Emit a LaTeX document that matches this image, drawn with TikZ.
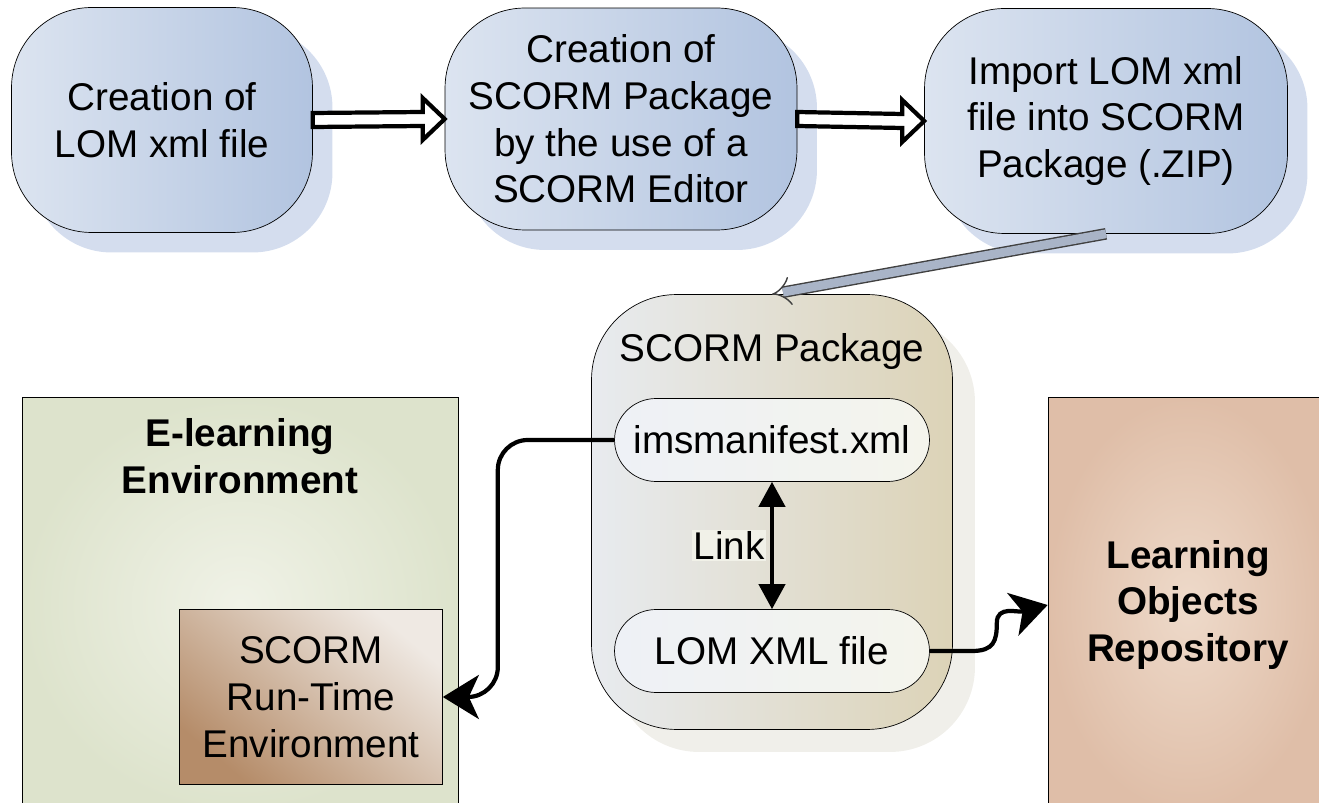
\documentclass[tikz,border=0pt]{standalone}
\usepackage{fontspec}
\setmainfont{Liberation Sans}
\usetikzlibrary{arrows.meta,shadows,positioning,calc}

\definecolor{stepleft}{HTML}{DCE4F0}
\definecolor{stepright}{HTML}{B2C4E0}
\definecolor{stepshadow}{HTML}{D4DDEE}
\definecolor{pkgleft}{HTML}{E8EBEF}
\definecolor{pkgright}{HTML}{DCD3B7}
\definecolor{pkgshadow}{HTML}{F0EFEA}
\definecolor{fileleft}{HTML}{EEF1F6}
\definecolor{fileright}{HTML}{F4F4EC}
\definecolor{envouter}{HTML}{DDE3CC}
\definecolor{envinner}{HTML}{F0F2E7}
\definecolor{rtdark}{HTML}{B58C69}
\definecolor{rtlight}{HTML}{EFE9E3}
\definecolor{repoouter}{HTML}{DFBEA8}
\definecolor{repoinner}{HTML}{EEDACA}
\definecolor{feedgray}{HTML}{A9B4C7}
\definecolor{linkbg}{HTML}{F1F1E8}

\newcommand\boxfont{\fontsize{22}{26.6}\selectfont}

\begin{document}
\begin{tikzpicture}[x=0.02cm,y=-0.02cm,
  stepbox/.style={draw=black,rounded corners=1.6cm,left color=stepleft,right color=stepright,
    align=center,font=\boxfont,inner sep=0pt,
    drop shadow={shadow xshift=0.4cm,shadow yshift=-0.4cm,fill=stepshadow,opacity=1}},
  pkgbox/.style={draw=black,rounded corners=1.7cm,left color=pkgleft,right color=pkgright,
    minimum width=7.22cm,minimum height=8.7cm,
    drop shadow={shadow xshift=0.45cm,shadow yshift=-0.45cm,fill=pkgshadow,opacity=1}},
  filebox/.style={draw=black,rounded corners=0.83cm,left color=fileleft,right color=fileright,
    minimum width=6.3cm,minimum height=1.66cm,font=\boxfont},
  flow/.style={draw=black,line width=2.4pt,fill=white,line join=miter,to path={
    ($(\tikztostart)+(0,-7)$) -- ($(\tikztotarget)+(-22,-7)$) -- ($(\tikztotarget)+(-22,-21)$)
    -- (\tikztotarget) -- ($(\tikztotarget)+(-22,21)$) -- ($(\tikztotarget)+(-22,7)$)
    -- ($(\tikztostart)+(0,7)$) -- cycle}},
  feed/.style={line width=0.8pt,draw=black!75,double=feedgray,double distance=5pt,-{Implies}},
  conn/.style={line width=2.4pt,rounded corners=0.6cm,-{Stealth[length=0.72cm,width=0.88cm,inset=0.2cm]}},
  link/.style={line width=2.4pt,{Triangle[length=0.5cm,width=0.52cm]}-{Triangle[length=0.5cm,width=0.52cm]}}]

\useasboundingbox (0,0) rectangle (1319,803);

% top row
\node[stepbox,minimum width=6.02cm,minimum height=4.5cm] (lom) at (162,120) {Creation of\\LOM xml file};
\node[stepbox,minimum width=7.04cm,minimum height=4.44cm] (editor) at (621,119) {Creation of\\SCORM Package\\by the use of a\\SCORM Editor};
\node[stepbox,minimum width=7.26cm,minimum height=4.5cm] (import) at (1106,121) {Import LOM xml\\file into SCORM\\Package (.ZIP)};

\draw[flow] (lom.east) to (editor.west);
\draw[flow] (editor.east) to (import.west);

% package
\node[pkgbox] (pkg) at (772,512) {};
\node[font=\boxfont] (pkgtitle) at ([yshift=-1.14cm]pkg.north) {SCORM Package};
\node[filebox] (manifest) at (772,440) {imsmanifest.xml};
\node[filebox] (lomfile) at (772,651) {LOM XML file};

\draw[feed] (import.south) -- (pkg.north);
\draw[link] (manifest.south) -- (lomfile.north)
  node[midway,left,fill=linkbg,inner sep=1pt,xshift=-2pt,font=\boxfont] (linklabel) {Link};

% environment
\node[draw=black,inner color=envinner,outer color=envouter,minimum width=8.72cm,minimum height=8.3cm] (env) at (240,605) {};
\node[font=\boxfont\bfseries,align=center,anchor=north,inner sep=0pt] (envtitle) at ([yshift=-0.42cm]env.north) {E-learning\\Environment};
\node[draw=black,left color=rtlight,right color=rtdark,shading angle=-40,minimum width=5.26cm,minimum height=3.5cm,
  align=center,font=\boxfont] (runtime) at (311,697) {SCORM\\Run-Time\\Environment};

% repository
\node[draw=black,inner color=repoinner,outer color=repoouter,minimum width=5.6cm,minimum height=8.3cm,
  align=center,font=\boxfont\bfseries] (repo) at (1188,605) {Learning\\Objects\\Repository};

\draw[conn] (manifest.west) -| ([xshift=1.1cm]runtime.east) -- (runtime.east);
\draw[conn,rounded corners=0pt] (lomfile.east) -- ++(42,0) .. controls +(22,0) and +(0,18) .. ++(25,-28)
  .. controls +(0,-18) and +(-30,8) .. (repo.west);

\end{tikzpicture}
\end{document}
